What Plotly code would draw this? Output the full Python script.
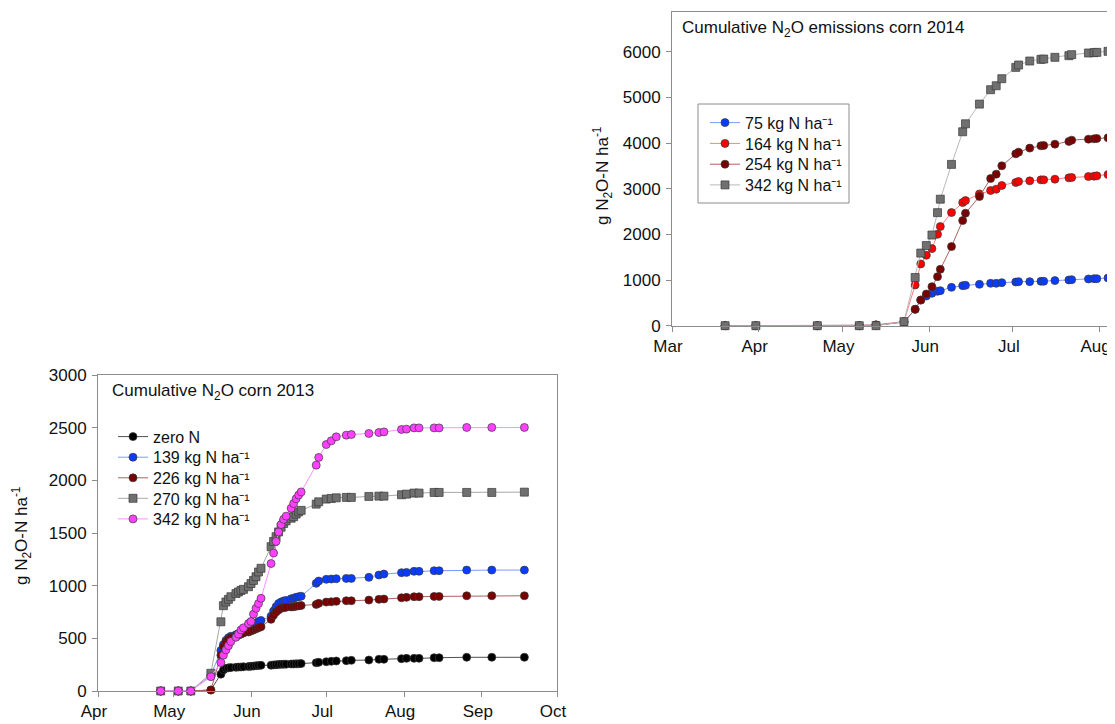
import plotly.graph_objects as go

# ---------------- 2014 (top-right panel) ----------------
t_dates = ['2014-03-20', '2014-03-31', '2014-04-22', '2014-05-07', '2014-05-13', '2014-05-23',
           '2014-05-27', '2014-05-29', '2014-05-31', '2014-06-02', '2014-06-04', '2014-06-05',
           '2014-06-09', '2014-06-13', '2014-06-14', '2014-06-19', '2014-06-23', '2014-06-25',
           '2014-06-27', '2014-07-02', '2014-07-03', '2014-07-07', '2014-07-11', '2014-07-12',
           '2014-07-16', '2014-07-21', '2014-07-22', '2014-07-28', '2014-07-30', '2014-07-31',
           '2014-08-04']
n75_2014 = [0, 0, 0, 0, 10, 80, 360, 560, 650, 709, 753, 767, 840, 877, 884, 906, 928, 928, 943,
            957, 965, 965, 972, 972, 987, 1001, 1008, 1023, 1030, 1030, 1045]
n164_2014 = [0, 0, 0, 0, 20, 90, 891, 1352, 1542, 1688, 2002, 2170, 2477, 2697, 2740, 2886, 2960,
             2989, 3069, 3135, 3157, 3171, 3193, 3193, 3208, 3237, 3245, 3266, 3274, 3281, 3310]
n254_2014 = [0, 0, 0, 0, 10, 80, 358, 563, 694, 855, 1074, 1235, 1732, 2302, 2463, 2828, 3223,
             3318, 3500, 3763, 3800, 3888, 3939, 3946, 3975, 4034, 4063, 4085, 4092, 4100, 4114]
n342_2014 = [0, 0, 0, 0, 0, 88, 1055, 1590, 1755, 1985, 2475, 2770, 3532, 4246, 4421, 4852, 5167,
             5254, 5408, 5656, 5708, 5795, 5832, 5839, 5876, 5912, 5934, 5971, 5978, 5985, 6007]
names_2014 = ['75 kg N ha\u207b\u00b9', '164 kg N ha\u207b\u00b9',
              '254 kg N ha\u207b\u00b9', '342 kg N ha\u207b\u00b9']

# ---------------- 2013 (bottom-left panel) ----------------
b_dates = ['2013-04-26', '2013-05-03', '2013-05-08', '2013-05-16', '2013-05-20', '2013-05-21',
           '2013-05-22', '2013-05-23', '2013-05-24', '2013-05-26', '2013-05-27', '2013-05-28',
           '2013-05-29', '2013-05-31', '2013-06-01', '2013-06-02', '2013-06-03', '2013-06-04',
           '2013-06-05', '2013-06-09', '2013-06-10', '2013-06-11', '2013-06-12', '2013-06-13',
           '2013-06-14', '2013-06-15', '2013-06-17', '2013-06-18', '2013-06-19', '2013-06-20',
           '2013-06-21', '2013-06-27', '2013-06-28', '2013-07-01', '2013-07-03', '2013-07-05',
           '2013-07-09', '2013-07-11', '2013-07-18', '2013-07-22', '2013-07-24', '2013-07-31',
           '2013-08-02', '2013-08-05', '2013-08-07', '2013-08-13', '2013-08-15', '2013-08-26',
           '2013-09-05', '2013-09-18']
zero_2013 = [0, 0, 0, 10, 160, 200, 215, 220, 222, 225, 227, 228, 230, 232, 235, 237, 240, 242, 244,
             245, 248, 250, 252, 253, 254, 255, 256, 257, 258, 259, 260, 268, 272, 278, 282, 285,
             288, 291, 294, 301, 301, 307, 310, 310, 310, 316, 316, 320, 320, 320]
n139_2013 = [0, 0, 0, 150, 385, 440, 480, 505, 520, 535, 545, 555, 565, 590, 610, 630, 645, 660,
             670, 710, 760, 800, 830, 845, 855, 860, 875, 880, 890, 895, 900, 1022, 1044, 1060,
             1063, 1066, 1069, 1069, 1079, 1101, 1110, 1123, 1126, 1136, 1136, 1142, 1142, 1148,
             1148, 1148]
n226_2013 = [0, 0, 0, 9, 340, 420, 460, 490, 505, 520, 530, 540, 550, 560, 570, 580, 590, 600, 610,
             680, 720, 750, 770, 785, 790, 795, 798, 800, 805, 808, 812, 822, 832, 844, 847, 851,
             857, 857, 863, 870, 873, 885, 889, 895, 895, 898, 898, 904, 904, 904]
n270_2013 = [0, 0, 0, 168, 657, 810, 845, 870, 895, 925, 940, 955, 965, 990, 1020, 1050, 1085, 1130,
             1165, 1370, 1420, 1465, 1510, 1555, 1590, 1615, 1640, 1655, 1680, 1700, 1715, 1774,
             1796, 1822, 1828, 1834, 1838, 1838, 1847, 1850, 1850, 1863, 1869, 1879, 1879, 1885,
             1885, 1885, 1885, 1888]
n342_2013 = [0, 0, 0, 136, 270, 340, 390, 430, 470, 510, 540, 580, 600, 640, 660, 730, 785, 830,
             880, 1210, 1310, 1420, 1510, 1580, 1630, 1660, 1735, 1780, 1825, 1860, 1890, 2144,
             2217, 2340, 2375, 2413, 2429, 2435, 2445, 2454, 2460, 2483, 2486, 2498, 2498, 2498,
             2498, 2502, 2502, 2502]
names_2013 = ['zero N', '139 kg N ha\u207b\u00b9', '226 kg N ha\u207b\u00b9',
              '270 kg N ha\u207b\u00b9', '342 kg N ha\u207b\u00b9']

# The page body has an 8 px margin: the figure starts at page (8, 8).
OFF = 8
W, H = 1115 - OFF, 724 - OFF
FONT = 'Liberation Sans, Arial, sans-serif'
AX = '#8c8c8c'


def px(x):  # page x -> paper fraction
    return (x - OFF) / W


def py(y):  # page y -> paper fraction
    return 1 - (y - OFF) / H


fig = go.Figure()
layout_legends = {}


def add(x, y, name, fill, line, symbol, xa, ya, legend_key, lx, ly):
    fig.add_trace(go.Scatter(
        x=x, y=y, name=name, mode='lines+markers',
        line=dict(color=line, width=1),
        marker=dict(symbol=symbol, size=8, color=fill, line=dict(color='#3a3a3a', width=0.7)),
        xaxis=xa, yaxis=ya, legend=legend_key, cliponaxis=False))
    layout_legends[legend_key] = dict(
        x=px(lx), y=py(ly), xanchor='left', yanchor='middle',
        bgcolor='rgba(0,0,0,0)', borderwidth=0,
        font=dict(size=16, family=FONT, color='#111'), itemwidth=30)


BLX = 113
TLX = 705
# bottom panel (2013)
add(b_dates, zero_2013, names_2013[0], '#000000', '#505050', 'circle', 'x', 'y', 'legend', BLX, 436.7)
add(b_dates, n139_2013, names_2013[1], '#0a3cff', '#7b9bff', 'circle', 'x', 'y', 'legend2', BLX, 457.3)
add(b_dates, n226_2013, names_2013[2], '#7a0000', '#b06060', 'circle', 'x', 'y', 'legend3', BLX, 477.9)
add(b_dates, n270_2013, names_2013[3], '#707070', '#a8a8a8', 'square', 'x', 'y', 'legend4', BLX, 498.4)
add(b_dates, n342_2013, names_2013[4], '#ff40ff', '#ff90ff', 'circle', 'x', 'y', 'legend5', BLX, 519)

# top panel (2014)
add(t_dates, n75_2014, names_2014[0], '#0a3cff', '#7b9bff', 'circle', 'x2', 'y2', 'legend6', TLX, 122.7)
add(t_dates, n164_2014, names_2014[1], '#ff0000', '#ff8080', 'circle', 'x2', 'y2', 'legend7', TLX, 143.5)
add(t_dates, n254_2014, names_2014[2], '#7a0000', '#b06060', 'circle', 'x2', 'y2', 'legend8', TLX, 164.3)
add(t_dates, n342_2014, names_2014[3], '#707070', '#b8b8b8', 'square', 'x2', 'y2', 'legend9', TLX, 185)

axis_common = dict(showline=True, linecolor=AX, linewidth=1, ticks='outside', ticklen=5,
                   tickcolor=AX, showgrid=False, zeroline=False, automargin=False,
                   tickfont=dict(size=17, color='#111', family=FONT))

fig.update_layout(
    width=W, height=H, margin=dict(l=0, r=0, t=0, b=0, autoexpand=False),
    paper_bgcolor='white', plot_bgcolor='white',
    font=dict(family=FONT, color='#111'),
    xaxis=dict(domain=[px(98), px(557)], anchor='y', type='date',
               range=['2013-04-01', '2013-10-01'], tick0='2013-04-01', dtick='M1',
               tickformat='%b', mirror=True, ticklabelshift=-4, **axis_common),
    yaxis=dict(domain=[py(691), py(375)], anchor='x', range=[0, 3000], dtick=500,
               mirror=True, ticklabelstandoff=2, **axis_common),
    xaxis2=dict(domain=[px(672), 1.0], anchor='y2', type='date',
                range=['2014-03-01', '2014-08-06 12:00'], tick0='2014-03-01', dtick='M1',
                tickformat='%b', mirror=True, ticklabelshift=-4, **axis_common),
    yaxis2=dict(domain=[py(325.7), py(11.7)], anchor='x2', range=[0, 6875], dtick=1000,
                mirror=False, ticklabelstandoff=2, **axis_common),
    showlegend=True,
    **layout_legends,
)

# border box of the 2014 legend
fig.add_shape(type='rect', xref='paper', yref='paper',
              x0=px(698), x1=px(849), y0=py(203), y1=py(104),
              line=dict(color=AX, width=1), fillcolor='white', layer='above')

ann = [
    dict(text='Cumulative N<sub>2</sub>O emissions corn 2014', x=px(680), y=py(29)),
    dict(text='Cumulative N<sub>2</sub>O corn 2013', x=px(110), y=py(392)),
]
for a in ann:
    fig.add_annotation(xref='paper', yref='paper', xanchor='left', yanchor='middle',
                       showarrow=False, font=dict(size=17, family=FONT, color='#111'), **a)
for (xx, yy) in [(21, 536), (603, 176)]:
    fig.add_annotation(text='g N<sub>2</sub>O-N ha<sup>-1</sup>', x=px(xx), y=py(yy),
                       textangle=-90, xref='paper', yref='paper', xanchor='center',
                       yanchor='middle', showarrow=False,
                       font=dict(size=17, family=FONT, color='#111'))

fig.write_html('out.html')
